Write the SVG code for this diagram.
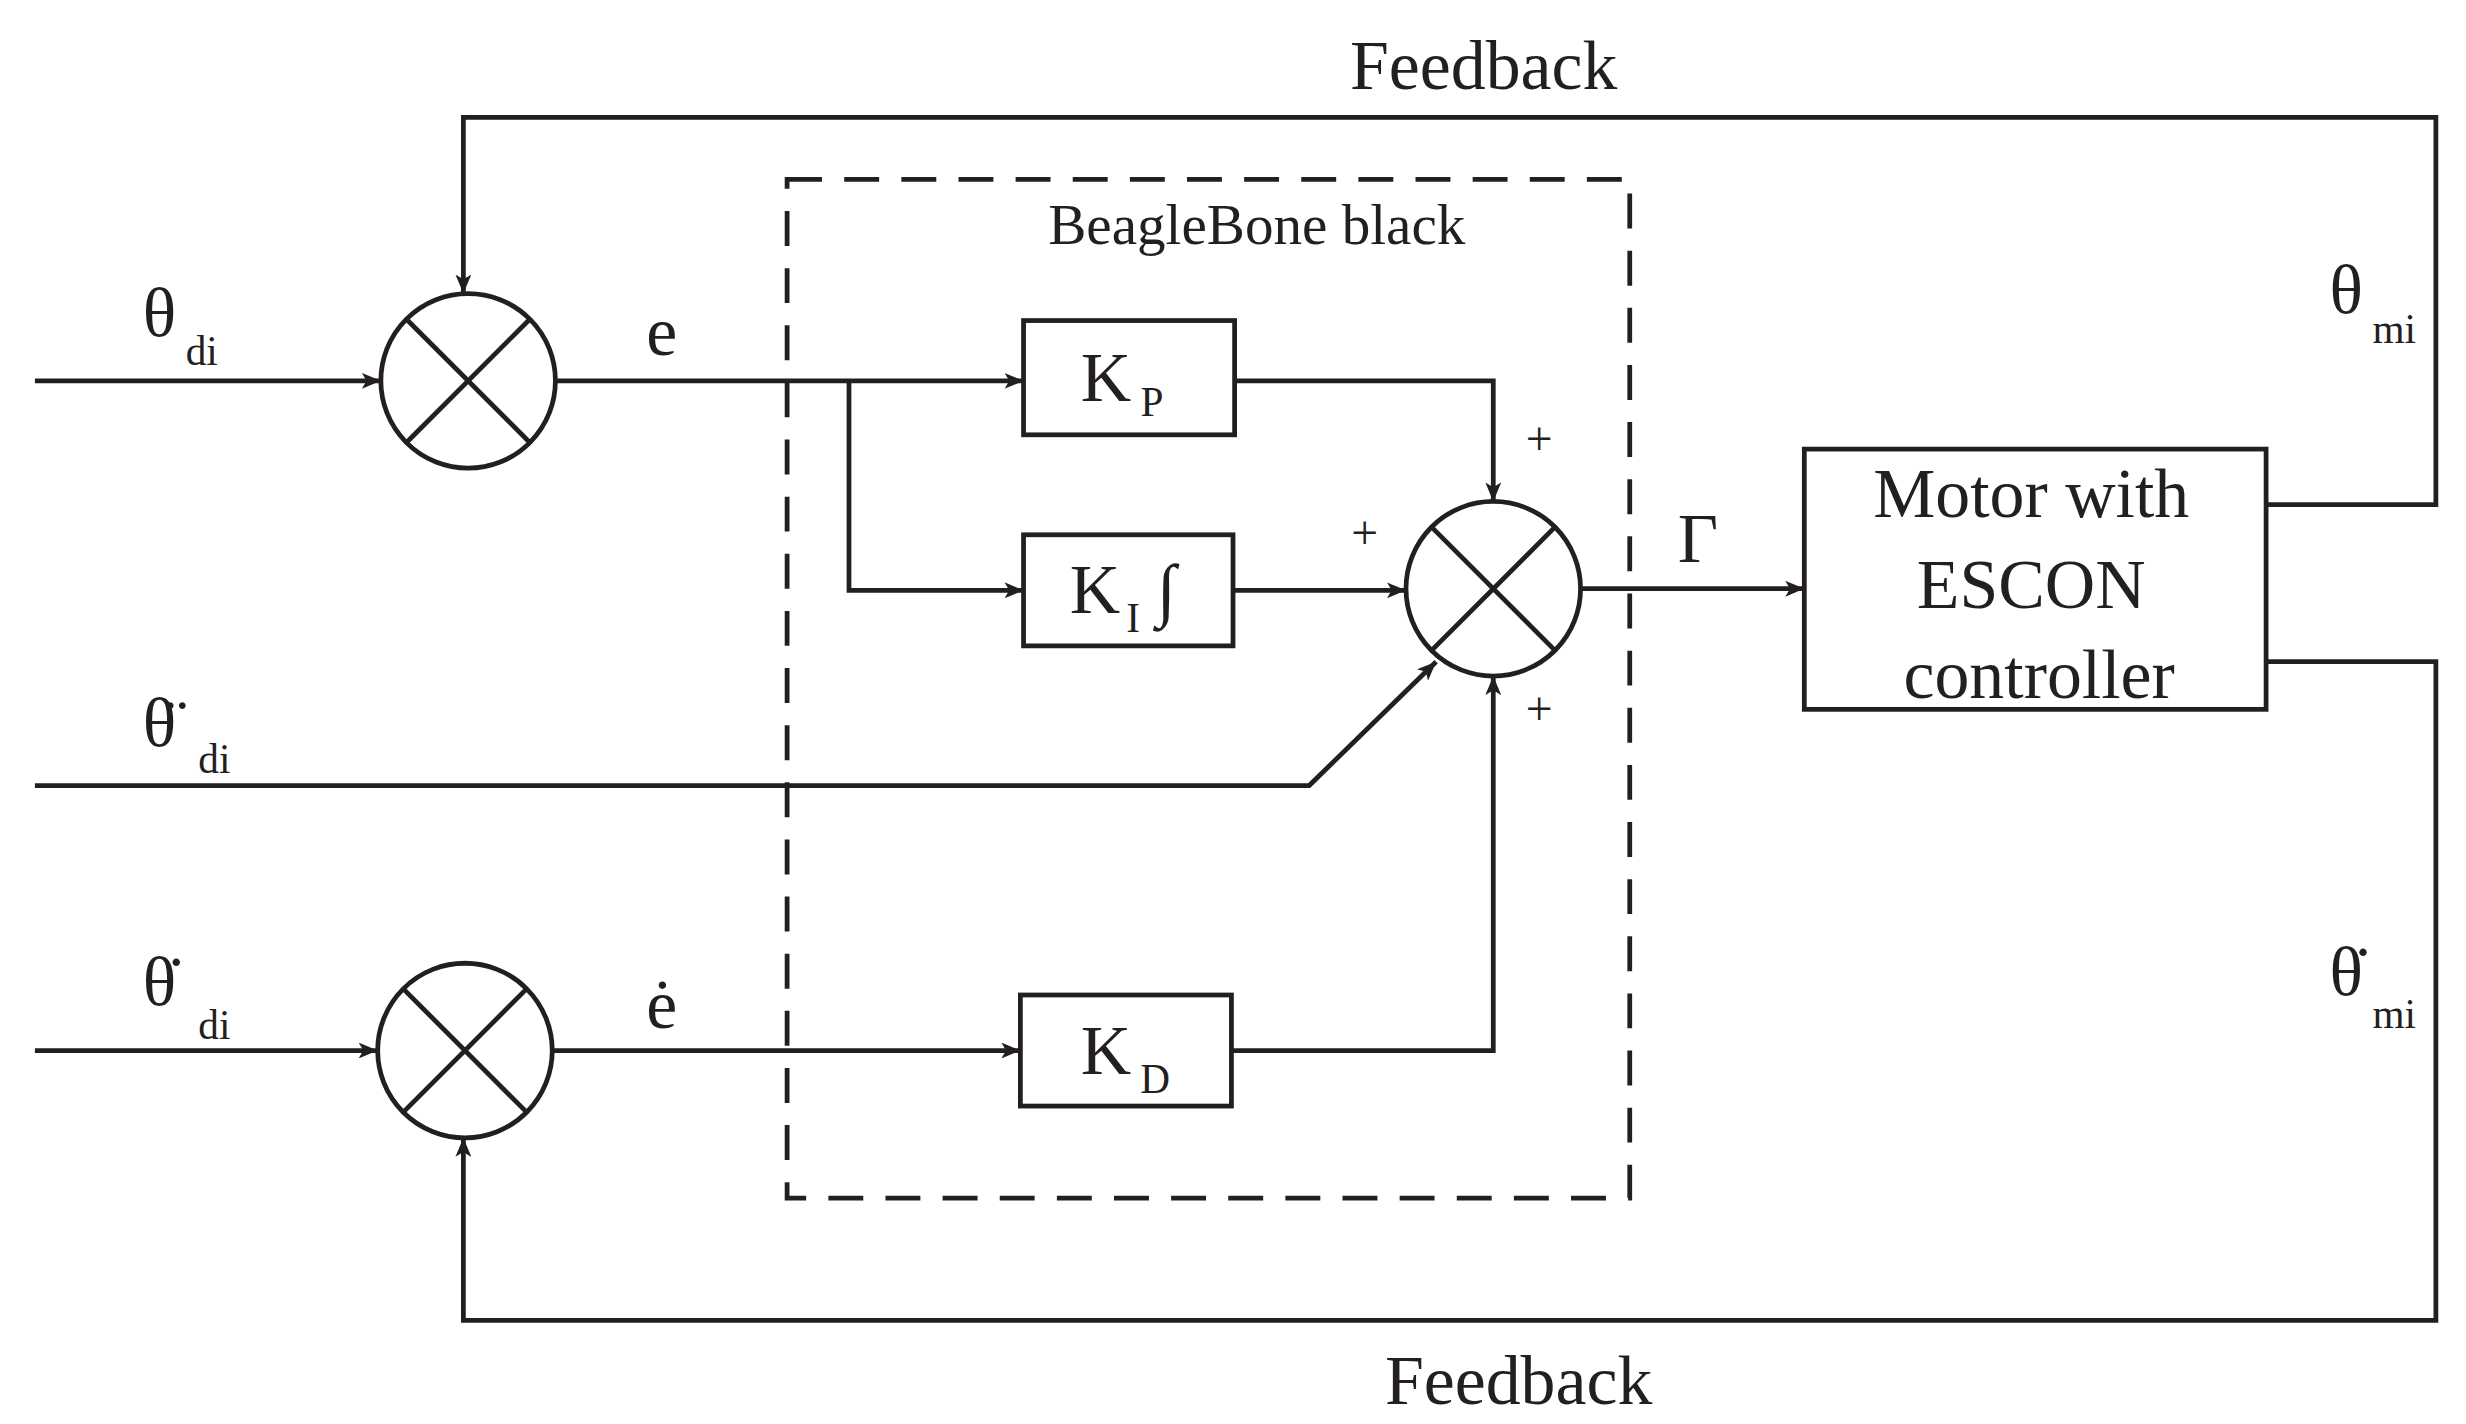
<svg xmlns="http://www.w3.org/2000/svg" width="2466" height="1424" viewBox="0 0 2466 1424">
<style>
.l{fill:none;stroke:#231f20;stroke-width:3}
.t{font-family:"Liberation Serif","DejaVu Serif",serif;fill:#231f20}
.b{font-size:44px}
.s{font-size:26px}
</style>
<defs>
<marker id="a" viewBox="0 0 12 10" refX="12" refY="5" markerWidth="12" markerHeight="10" markerUnits="userSpaceOnUse" orient="auto"><path d="M0,0 L12,5 L0,10 L3,5 z" fill="#231f20"/></marker>
</defs>
<rect width="2466" height="1424" fill="#fff"/>
<g transform="scale(1.5869)">
<g id="connectors" class="l">
<path d="M22,240 H240" marker-end="url(#a)"/>
<path d="M350,240 H645" marker-end="url(#a)"/>
<path d="M535,240 V372 H645" marker-end="url(#a)"/>
<path d="M778,240 H941 V316" marker-end="url(#a)"/>
<path d="M777,372 H886" marker-end="url(#a)"/>
<path d="M22,495 H825 L905,417" marker-end="url(#a)"/>
<path d="M776,662 H941 V426" marker-end="url(#a)"/>
<path d="M22,662 H238" marker-end="url(#a)"/>
<path d="M348,662 H643" marker-end="url(#a)"/>
<path d="M996,371 H1137" marker-end="url(#a)"/>
<path d="M1428,318 H1535 V74 H292 V185" marker-end="url(#a)"/>
<path d="M1428,417 H1535 V832 H292 V717" marker-end="url(#a)"/>
</g>
<g id="bbb"><rect x="496" y="113" width="531" height="642" class="l" stroke-dasharray="22,14"/>
<text x="792" y="154" class="t" font-size="36" text-anchor="middle">BeagleBone black</text></g>
<g id="sum1" class="l"><circle cx="295" cy="240" r="55"/><path d="M256,201 L334,279 M334,201 L256,279"/></g>
<g id="sum2" class="l"><circle cx="293" cy="662" r="55"/><path d="M254,623 L332,701 M332,623 L254,701"/></g>
<g id="sum3" class="l"><circle cx="941" cy="371" r="55"/><path d="M902,332 L980,410 M980,332 L902,410"/></g>
<g id="kp"><rect x="645" y="202" width="133" height="72" class="l"/><text x="697" y="253" class="t b" text-anchor="middle">K</text><text x="726" y="262" class="t s" text-anchor="middle">P</text></g>
<g id="ki"><rect x="645" y="337" width="132" height="70" class="l"/><text x="690" y="386" class="t b" text-anchor="middle">K</text><text x="714" y="398" class="t s" text-anchor="middle">I</text><text x="735" y="386" class="t b" text-anchor="middle">∫</text></g>
<g id="kd"><rect x="643" y="627" width="133" height="70" class="l"/><text x="697" y="677" class="t b" text-anchor="middle">K</text><text x="728" y="689" class="t s" text-anchor="middle">D</text></g>
<g id="motor"><rect x="1137" y="283" width="291" height="164" class="l"/>
<text x="1280" y="326" class="t b" text-anchor="middle">Motor with</text>
<text x="1280" y="383" class="t b" text-anchor="middle">ESCON</text>
<text x="1285" y="440" class="t b" text-anchor="middle">controller</text></g>
<g id="labels" class="t">
<text x="935" y="56" class="b" text-anchor="middle">Feedback</text>
<text x="957" y="885" class="b" text-anchor="middle">Feedback</text>
<text x="90" y="212" class="b">θ</text><text x="117" y="230" class="s">di</text>
<text x="90" y="470" class="b">θ̈</text><text x="125" y="487" class="s">di</text>
<text x="90" y="633" class="b">θ̇</text><text x="125" y="655" class="s">di</text>
<text x="1468" y="197" class="b">θ</text><text x="1495" y="216" class="s">mi</text>
<text x="1468" y="627" class="b">θ̇</text><text x="1495" y="648" class="s">mi</text>
<text x="417" y="224" class="b" text-anchor="middle">e</text>
<text x="417" y="648" class="b" text-anchor="middle">ė</text>
<text x="1070" y="354" class="b" text-anchor="middle">Γ</text>
<text x="970" y="287" font-size="30" text-anchor="middle">+</text>
<text x="860" y="346" font-size="30" text-anchor="middle">+</text>
<text x="970" y="457" font-size="30" text-anchor="middle">+</text>
</g>
</g>
</svg>
